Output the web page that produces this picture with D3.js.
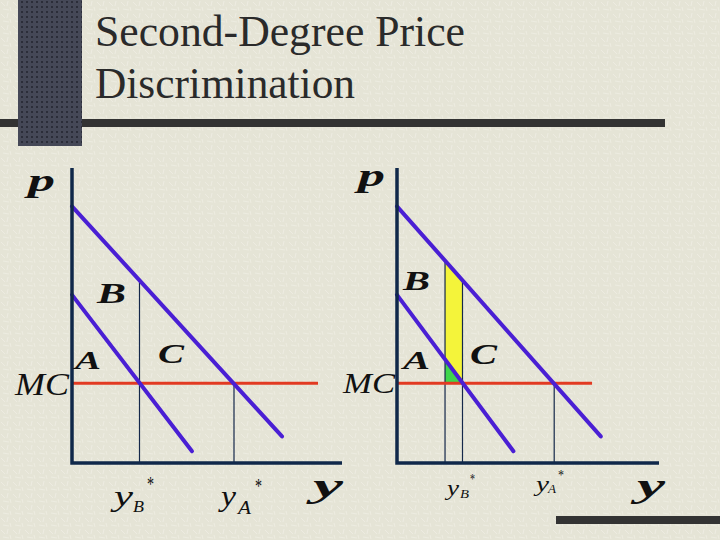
<!DOCTYPE html>
<html><head><meta charset="utf-8">
<script src="https://cdn.jsdelivr.net/npm/d3@7"></script>
<style>html,body{margin:0;padding:0;background:#e5e4d6;}svg{display:block}</style>
</head><body><script>
// ---------- data ----------
const titleLines = ["Second-Degree Price", "Discrimination"];
const mcLevel = 27;                    // marginal cost (price units)
const demandA = [[0, 87], [70, 9]];     // high-demand consumer (q, p)
const demandB = [[0, 57], [40, 4]];     // low-demand consumer (q, p)
const yAstar = 54;                      // efficient quantity for A
const yBstar = 22.5;                    // efficient quantity for B
const yBreduced = 16.5;                 // reduced quantity offered to B (right panel)
const qMax = 90, pMax = 100;

const W = 720, H = 540;
const svg = d3.select("body").append("svg").attr("width", W).attr("height", H);
const defs = svg.append("defs");

// background texture (subtle)
const bg = defs.append("pattern").attr("id", "bgpat").attr("width", 12).attr("height", 12).attr("patternUnits", "userSpaceOnUse");
bg.append("rect").attr("width", 12).attr("height", 12).attr("fill", "#e5e4d6");
bg.append("path").attr("d", "M1 2 L5 6 M8 1 L7 6 M3 9 L9 10 M10 7 L11 11").attr("stroke", "#efeee3").attr("stroke-width", 0.8);
svg.append("rect").attr("width", W).attr("height", H).attr("fill", "url(#bgpat)");

// dotted dark bar texture
const dp = defs.append("pattern").attr("id", "dots").attr("width", 5).attr("height", 5).attr("patternUnits", "userSpaceOnUse");
dp.append("rect").attr("width", 5).attr("height", 5).attr("fill", "#454857");
dp.append("rect").attr("x", 1).attr("y", 1).attr("width", 2).attr("height", 2).attr("fill", "#2b2d39");

// decorative bars
svg.append("rect").attr("x", 0).attr("y", 119).attr("width", 665).attr("height", 8).attr("fill", "#333333");
svg.append("rect").attr("x", 18).attr("y", 0).attr("width", 64).attr("height", 146).attr("fill", "url(#dots)");
svg.append("rect").attr("x", 556).attr("y", 516).attr("width", 164).attr("height", 8).attr("fill", "#333333");

// title
const serif = "'Liberation Serif','Times New Roman',serif";
const titleG = svg.append("g").attr("font-family", serif).attr("fill", "#2a2a2a");
titleG.append("text").attr("x", 95).attr("y", 46).attr("font-size", 44)
  .attr("textLength", 370).attr("lengthAdjust", "spacingAndGlyphs").text(titleLines[0]);
titleG.append("text").attr("x", 95).attr("y", 98).attr("font-size", 44)
  .attr("textLength", 260).attr("lengthAdjust", "spacingAndGlyphs").text(titleLines[1]);

// demand functions
const fA = d3.scaleLinear().domain(demandA.map(d => d[0])).range(demandA.map(d => d[1]));
const fB = d3.scaleLinear().domain(demandB.map(d => d[0])).range(demandB.map(d => d[1]));

function txt(g, s, x, y, size, w, style) {
  const t = g.append("text").attr("x", x).attr("y", y).attr("font-size", size)
    .attr("font-family", serif).attr("fill", "#111").text(s);
  if (style.bold) t.attr("font-weight", "bold");
  if (style.italic) t.attr("font-style", "italic");
  if (w) t.attr("textLength", w).attr("lengthAdjust", "spacingAndGlyphs");
  return t;
}

function panel(cfg) {
  const x = d3.scaleLinear().domain([0, qMax]).range(cfg.xr);
  const y = d3.scaleLinear().domain([0, pMax]).range(cfg.yr);
  const g = svg.append("g");
  const line = d3.line().x(d => x(d[0])).y(d => y(d[1]));

  if (cfg.fills) {
    const yellow = [[yBreduced, fA(yBreduced)], [yBstar, fA(yBstar)], [yBstar, mcLevel], [yBreduced, fB(yBreduced)]];
    const green = [[yBreduced, fB(yBreduced)], [yBstar, mcLevel], [yBreduced, mcLevel]];
    g.append("path").attr("d", line(yellow) + "Z").attr("fill", "#f4f43a");
    g.append("path").attr("d", line(green) + "Z").attr("fill", "#3fd64c");
  }

  // thin vertical reference lines
  const vlines = cfg.fills
    ? [[yBreduced, fA(yBreduced)], [yBstar, fA(yBstar)], [yAstar, mcLevel]]
    : [[yBstar, fA(yBstar)], [yAstar, mcLevel]];
  vlines.forEach(v => {
    g.append("path").attr("d", line([[v[0], 0], v])).attr("stroke", "#15284a").attr("stroke-width", 1.2).attr("fill", "none");
  });

  // MC line
  g.append("path").attr("d", line([[0, mcLevel], [cfg.mcEnd, mcLevel]]))
    .attr("stroke", "#e23a22").attr("stroke-width", 3).attr("fill", "none");

  // demand lines
  [demandA, demandB].forEach(d => {
    g.append("path").attr("d", line(d)).attr("stroke", "#4a1fd4").attr("stroke-width", 4)
      .attr("fill", "none").attr("stroke-linecap", "round");
  });

  // axes
  g.append("path").attr("d", line([[0, pMax], [0, 0], [qMax, 0]]))
    .attr("stroke", "#10284a").attr("stroke-width", 3.5).attr("fill", "none");

  cfg.labels(g);
}

panel({
  xr: [72, 342], yr: [463, 168], mcEnd: 82, fills: false,
  labels: g => {
    txt(g, "p", 28, 191, 32, 27, {bold: true, italic: true});
    txt(g, "B", 97, 303, 29, 29, {bold: true, italic: true});
    txt(g, "A", 75, 369, 25, 26, {bold: true, italic: true});
    txt(g, "C", 158, 363, 27, 26, {bold: true, italic: true});
    txt(g, "MC", 15, 395, 32, 54, {italic: true});
    txt(g, "y", 313, 497, 34, 30, {bold: true, italic: true});
    txt(g, "y", 114, 506, 30, 19, {italic: true});
    txt(g, "B", 133, 512, 17, 11, {italic: true});
    txt(g, "*", 147, 491, 20, 7, {});
    txt(g, "y", 221, 506, 30, 15, {italic: true});
    txt(g, "A", 238, 514, 18, 13, {italic: true});
    txt(g, "*", 255, 493, 20, 7, {});
  }
});

panel({
  xr: [397, 659], yr: [463, 168], mcEnd: 67, fills: true,
  labels: g => {
    txt(g, "p", 358, 186, 32, 27, {bold: true, italic: true});
    txt(g, "B", 403, 290, 27, 27, {bold: true, italic: true});
    txt(g, "A", 403, 369, 25, 27, {bold: true, italic: true});
    txt(g, "C", 470, 364, 30, 27, {bold: true, italic: true});
    txt(g, "MC", 343, 393, 30, 52, {italic: true});
    txt(g, "y", 637, 497, 34, 28, {bold: true, italic: true});
    txt(g, "y", 447, 495, 21, 12, {italic: true});
    txt(g, "B", 460, 498, 12, 9, {italic: true});
    txt(g, "*", 470, 484, 14, 5, {});
    txt(g, "y", 536, 491, 21, 13, {italic: true});
    txt(g, "A", 548, 493, 12, 8, {italic: true});
    txt(g, "*", 558, 480, 14, 6, {});
  }
});
</script></body></html>
